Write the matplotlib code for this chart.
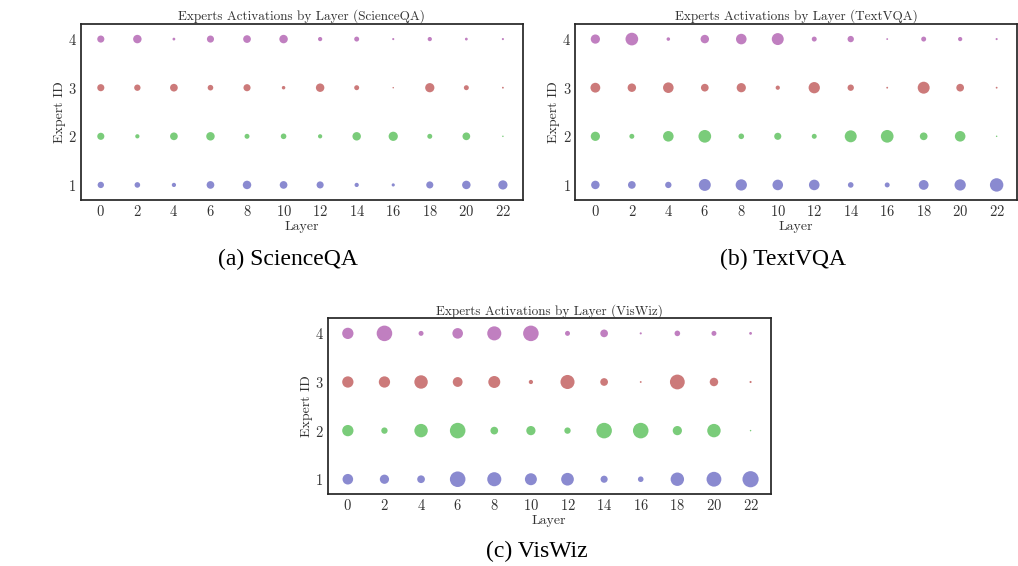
import matplotlib
matplotlib.use("Agg")
import matplotlib.pyplot as plt

plt.rcParams["font.family"] = ["cmr10", "DejaVu Serif"]
plt.rcParams["axes.formatter.use_mathtext"] = True

layers = list(range(0, 24, 2))
experts = [1, 2, 3, 4]
expert_colors = {1: "#8a8ad0", 2: "#7acc7a", 3: "#cc7a7a", 4: "#c07fc0"}

# Relative activation frequency for each expert across layers
scienceqa_e4 = [45, 64, 7, 45, 53, 64, 16, 22, 4, 16, 7, 4]
scienceqa_e3 = [45, 36, 53, 28, 45, 11, 64, 22, 2, 76, 22, 3]
scienceqa_e2 = [45, 16, 53, 64, 22, 28, 16, 64, 76, 22, 53, 2]
scienceqa_e1 = [36, 28, 16, 53, 64, 53, 45, 16, 9, 45, 64, 76]

textvqa_e4 = [76, 144, 11, 64, 100, 128, 22, 36, 3, 22, 16, 4]
textvqa_e3 = [86, 64, 100, 53, 76, 16, 114, 36, 3, 128, 53, 3]
textvqa_e2 = [76, 22, 100, 144, 28, 45, 22, 128, 144, 53, 100, 2]
textvqa_e1 = [64, 53, 36, 128, 114, 100, 100, 28, 22, 86, 114, 161]

viswiz_e4 = [114, 216, 22, 100, 177, 216, 22, 53, 4, 28, 22, 7]
viswiz_e3 = [114, 114, 161, 86, 128, 16, 177, 53, 3, 196, 64, 4]
viswiz_e2 = [114, 36, 161, 216, 53, 76, 36, 216, 216, 76, 161, 2]
viswiz_e1 = [100, 76, 53, 216, 177, 128, 144, 45, 28, 161, 196, 234]

datasets = [
    ("ScienceQA", "(a) ScienceQA",
     {1: scienceqa_e1, 2: scienceqa_e2, 3: scienceqa_e3, 4: scienceqa_e4}),
    ("TextVQA", "(b) TextVQA",
     {1: textvqa_e1, 2: textvqa_e2, 3: textvqa_e3, 4: textvqa_e4}),
    ("VisWiz", "(c) VisWiz",
     {1: viswiz_e1, 2: viswiz_e2, 3: viswiz_e3, 4: viswiz_e4}),
]

SIZE_SCALE = 0.58
W, H = 1018, 566
fig = plt.figure(figsize=(W / 100, H / 100), dpi=100)

# axes boxes in pixels: left, top, right, bottom
boxes = [(80.7, 24, 523, 200), (575.3, 24, 1016.7, 200), (327.7, 318.3, 770.7, 494.3)]
captions_xy = [(288, 259), (783, 259), (537, 551)]

text_color = "#333333"
for (name, caption, vals), (l, t, r, b), (cx, cy) in zip(datasets, boxes, captions_xy):
    ax = fig.add_axes([l / W, 1 - b / H, (r - l) / W, (b - t) / H])
    for e in experts:
        ax.scatter(layers, [e] * len(layers), s=[v * SIZE_SCALE for v in vals[e]],
                   color=expert_colors[e], alpha=1.0, linewidths=0, zorder=3)
    ax.set_xlim(-1.1, 23.1)
    ax.set_ylim(0.69, 4.31)
    ax.set_xticks(layers)
    ax.set_yticks(experts)
    ax.tick_params(length=0, pad=3, labelsize=10.5, colors=text_color)
    ax.set_title(f"Experts Activations by Layer ({name})", fontsize=9.5,
                 color=text_color, pad=3)
    ax.set_xlabel("Layer", fontsize=10, color=text_color, labelpad=1)
    ax.set_ylabel("Expert ID", fontsize=10, color=text_color, labelpad=1.5)
    for sp in ax.spines.values():
        sp.set_linewidth(1.25)
        sp.set_color("#262626")
    fig.text(cx / W, 1 - cy / H, caption, ha="center", va="center",
             fontsize=17, family=["Liberation Serif"], color="black")

fig.savefig("out.png", dpi=100)
